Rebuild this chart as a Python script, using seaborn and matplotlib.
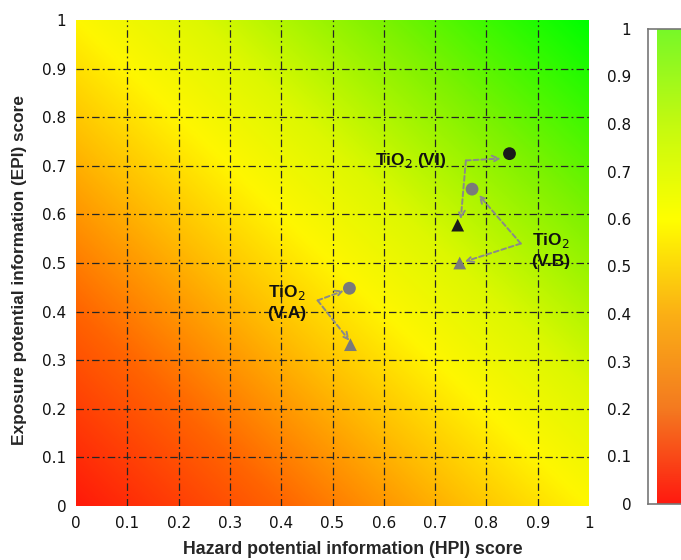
import numpy as np
import pandas as pd
import matplotlib
matplotlib.use("Agg")
import matplotlib.pyplot as plt
from matplotlib.colors import LinearSegmentedColormap
import seaborn as sns

sns.set_theme(style="white")
plt.rcParams['font.family'] = ['DejaVu Sans']

# Data
hpi = [0.845, 0.772, 0.744, 0.748, 0.533, 0.535]
epi = [0.725, 0.652, 0.578, 0.500, 0.448, 0.332]
marker_kind = ["circle", "circle", "triangle", "triangle", "circle", "triangle"]
point_color = ["#1a1a1a", "#7a7a7a", "#1a1a1a", "#7a7a7a", "#7a7a7a", "#7a7a7a"]
labels = ["TiO$_2$ (VI)", "TiO$_2$\n(V.B)", "TiO$_2$\n(V.A)"]
label_pos = [(0.652, 0.711), (0.925, 0.527), (0.41, 0.42)]
# arrows: (corner x, corner y, head x, head y)
arrows = [
    (0.760, 0.711, 0.828, 0.715),
    (0.760, 0.711, 0.750, 0.590),
    (0.867, 0.540, 0.785, 0.640),
    (0.867, 0.540, 0.758, 0.503),
    (0.471, 0.423, 0.522, 0.443),
    (0.471, 0.423, 0.533, 0.340),
]
ticks = [0, 0.1, 0.2, 0.3, 0.4, 0.5, 0.6, 0.7, 0.8, 0.9, 1]
tick_labels = ["0", "0.1", "0.2", "0.3", "0.4", "0.5", "0.6", "0.7", "0.8", "0.9", "1"]

W, H = 681, 560
fig = plt.figure(figsize=(W / 100, H / 100), dpi=100)
ax = fig.add_axes([76 / W, 1 - 506 / H, (589 - 76) / W, (506 - 20) / H])

main_cmap = LinearSegmentedColormap.from_list(
    "main", [(0, "#ff1a0a"), (0.2, "#ff6400"), (0.38, "#ffbe00"), (0.5, "#fff600"),
             (0.62, "#ddf800"), (0.8, "#7cf200"), (1.0, "#00ff00")])
g = np.linspace(0, 1, 300)
X, Y = np.meshgrid(g, g)
ax.imshow((X + Y) / 2, cmap=main_cmap, extent=[0, 1, 0, 1], origin="lower",
          aspect="auto", interpolation="bilinear", zorder=0)

for t in ticks[1:-1]:
    ax.axvline(t, color="#262626", lw=0.9, ls=(0, (6, 2.5, 1.5, 2.5)), zorder=1)
    ax.axhline(t, color="#262626", lw=0.9, ls=(0, (6, 2.5, 1.5, 2.5)), zorder=1)

for (x0, y0, x1, y1) in arrows:
    ax.annotate("", xy=(x1, y1), xytext=(x0, y0),
                arrowprops=dict(arrowstyle="->", color="#8a8a8a", lw=1.4,
                                ls=(0, (2.5, 1.5)), shrinkA=0, shrinkB=0,
                                mutation_scale=12), zorder=2)

df = pd.DataFrame({"HPI": hpi, "EPI": epi, "kind": marker_kind, "col": point_color})
for kind, mk, sz in [("circle", "o", 85), ("triangle", "^", 85)]:
    sub = df[df["kind"] == kind]
    sns.scatterplot(data=sub, x="HPI", y="EPI", marker=mk, s=sz, c=list(sub["col"]),
                    edgecolor="none", ax=ax, zorder=3, legend=False)

for lab, (lx, ly) in zip(labels, label_pos):
    ax.text(lx, ly, lab, ha="center", va="center", fontsize=12.5, fontweight="bold",
            family=["Liberation Sans"], color="#111111", linespacing=1.35, zorder=4)

ax.set_xlim(0, 1)
ax.set_ylim(0, 1)
ax.set_xticks(ticks)
ax.set_xticklabels(tick_labels)
ax.set_yticks(ticks)
ax.set_yticklabels(tick_labels)
ax.tick_params(axis="both", length=0, labelsize=11, colors="#111111", pad=7)
for s in ax.spines.values():
    s.set_visible(False)
ax.set_xlabel("Hazard potential information (HPI) score", fontsize=12.8, fontweight="bold",
              family=["Liberation Sans"])
ax.xaxis.set_label_coords(0.54, -0.071)
ax.set_ylabel("Exposure potential information (EPI) score", fontsize=12.4, fontweight="bold",
              family=["Liberation Sans"])
ax.yaxis.set_label_coords(-0.096, 0.486)

# Colour bar (partially cut off at the right edge, like the reference)
cax = fig.add_axes([648 / W, 1 - 504 / H, 60 / W, (504 - 29) / H])
cb_cmap = LinearSegmentedColormap.from_list(
    "cb", [(0, "#ff1a10"), (0.2, "#f47a20"), (0.4, "#fbb015"), (0.6, "#ffff00"),
           (0.8, "#c4fa10"), (1.0, "#78f828")])
cax.imshow(np.linspace(0, 1, 256)[:, None], cmap=cb_cmap, extent=[0.15, 1, 0, 1],
           origin="lower", aspect="auto")
cax.set_xlim(0, 1)
cax.set_ylim(0, 1)
cax.set_xticks([])
cax.set_yticks(ticks)
cax.set_yticklabels(tick_labels)
cax.tick_params(axis="y", length=5, width=1, color="#777777", labelsize=11,
                labelcolor="#111111", pad=12, direction="in")
for name, s in cax.spines.items():
    s.set_color("#777777")
    s.set_linewidth(1.2)

fig.savefig("out.png", dpi=100)
